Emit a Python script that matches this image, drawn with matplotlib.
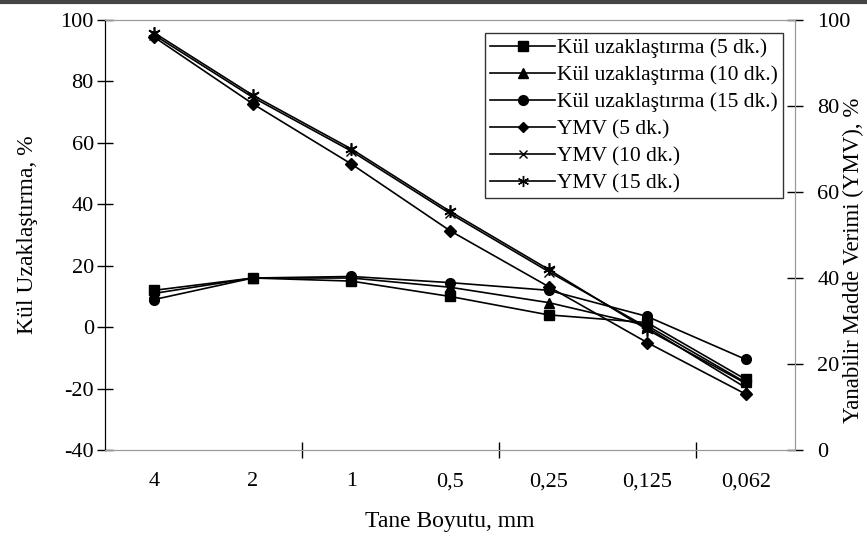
import numpy as np
import matplotlib
matplotlib.use("Agg")
import matplotlib.pyplot as plt
from matplotlib.lines import Line2D

plt.rcParams['font.family'] = ['Liberation Serif', 'DejaVu Serif']
plt.rcParams['axes.unicode_minus'] = False

# particle sizes (mm) shown as categories
sizes = ['4', '2', '1', '0,5', '0,25', '0,125', '0,062']

# ash removal, % (left axis)
kul_5 = [12, 16, 15, 10, 4, 1.5, -17]
kul_10 = [11, 16, 16, 13, 8, 0.5, -18]
kul_15 = [9, 16, 16.5, 14.5, 12, 3.5, -10.5]

# combustible matter yield, % (right axis)
ymv_5 = [96, 80.5, 66.5, 51, 38, 25, 13]
ymv_10 = [96.5, 82, 69.5, 55, 41.5, 28.5, 14.5]
ymv_15 = [97, 82.5, 70, 55.5, 42, 28, 15.5]

x = np.arange(len(sizes))

fig = plt.figure(figsize=(8.67, 5.39), dpi=100)
ax = fig.add_axes([0.121, 0.165, 0.796, 0.798])
ax2 = ax.twinx()

lw = 1.2
ax.plot(x, kul_5, color='black', lw=lw, marker='s', ms=7)
ax.plot(x, kul_10, color='black', lw=lw, marker='^', ms=7)
ax.plot(x, kul_15, color='black', lw=lw, marker='o', ms=7)
ax2.plot(x, ymv_5, color='black', lw=lw, marker='D', ms=6)
ax2.plot(x, ymv_10, color='black', lw=lw, marker='x', ms=7, mew=1.0)
ax2.plot(x, ymv_15, color='black', lw=lw, marker=(6, 2, 0), ms=9, mew=1.2)

ax.set_xlim(-0.5, 6.5)
ax.set_ylim(-40, 100)
ax2.set_ylim(0, 100)
ax.set_yticks(np.arange(-40, 101, 20))
ax2.set_yticks(np.arange(0, 101, 20))

# category labels without marks, tick marks between every second category
ax.set_xticks([1.5, 3.5, 5.5])
ax.set_xticklabels([])
ax.set_xticks(x, minor=True)
ax.set_xticklabels(sizes, minor=True, fontsize=16)
ax.tick_params(axis='x', which='minor', length=0, pad=16)
ax.tick_params(axis='x', which='major', direction='inout', length=12, width=1)
ax.tick_params(axis='y', direction='inout', length=12, width=1, labelsize=16, pad=2)
ax2.tick_params(axis='y', direction='inout', length=12, width=1, labelsize=16, pad=10)

for a in (ax, ax2):
    a.spines['top'].set_color('#999999')
    a.spines['bottom'].set_color('#999999')
    a.spines['right'].set_color('#999999')
    a.spines['left'].set_color('black')

ax.set_xlabel('Tane Boyutu, mm', fontsize=17, labelpad=14)
ax.set_ylabel('Kül Uzaklaştırma, %', fontsize=17)
ax2.set_ylabel('Yanabilir Madde Verimi (YMV), %', fontsize=16.5)
ax.yaxis.set_label_coords(-0.097, 0.5)
ax2.yaxis.set_label_coords(1.069, 0.44)

handles = [
    Line2D([], [], color='black', lw=lw, marker='s', ms=7),
    Line2D([], [], color='black', lw=lw, marker='^', ms=7),
    Line2D([], [], color='black', lw=lw, marker='o', ms=7),
    Line2D([], [], color='black', lw=lw, marker='D', ms=5),
    Line2D([], [], color='black', lw=lw, marker='x', ms=6),
    Line2D([], [], color='black', lw=lw, marker=(6, 2, 0), ms=8),
]
labels = ['Kül uzaklaştırma (5 dk.)', 'Kül uzaklaştırma (10 dk.)',
          'Kül uzaklaştırma (15 dk.)', 'YMV (5 dk.)', 'YMV (10 dk.)',
          'YMV (15 dk.)']
leg = ax2.legend(handles, labels, loc='upper right', bbox_to_anchor=(0.983, 0.97),
                 borderaxespad=0, fontsize=15.5, frameon=True, fancybox=False,
                 edgecolor='black', handlelength=3.0, handletextpad=0.1,
                 labelspacing=0.32, borderpad=0.25)
leg.get_frame().set_linewidth(1.0)

# dark border across the top of the image
fig.add_artist(Line2D([0, 1], [0.997, 0.997], color='#444444', lw=3,
                      transform=fig.transFigure))

fig.savefig('out.png', dpi=100)
